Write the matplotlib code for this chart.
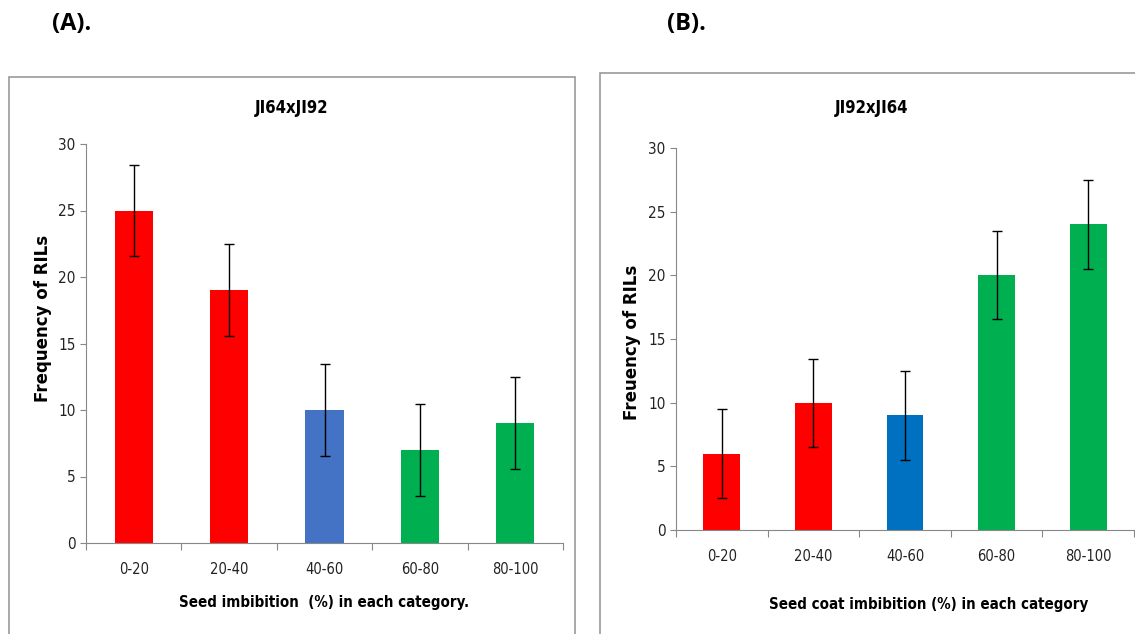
import matplotlib.pyplot as plt
from matplotlib.patches import Rectangle

categories = ['0-20', '20-40', '40-60', '60-80', '80-100']

# panel A: JI64xJI92
vals_a = [25, 19, 10, 7, 9]
err_a = [3.45, 3.45, 3.45, 3.45, 3.45]
colors_a = ['#FF0000', '#FF0000', '#4472C4', '#00B050', '#00B050']

# panel B: JI92xJI64
vals_b = [6, 10, 9, 20, 24]
err_b = [3.5, 3.45, 3.5, 3.45, 3.5]
colors_b = ['#FF0000', '#FF0000', '#0070C0', '#00B050', '#00B050']

W, H = 1135, 634
fig = plt.figure(figsize=(W / 100, H / 100), dpi=100)
lab_font = ['DejaVu Sans']
STR = 'condensed'


def fx(px):
	return px / W


def fy(py):
	return 1 - py / H


# panel frames
fig.patches.append(Rectangle((fx(9), fy(640)), fx(575 - 9), fy(77) - fy(640),
	transform=fig.transFigure, fill=False, edgecolor='#999999', lw=1.2))
fig.patches.append(Rectangle((fx(600), fy(640)), fx(560), fy(73) - fy(640),
	transform=fig.transFigure, fill=False, edgecolor='#999999', lw=1.2))

fig.text(fx(52), fy(24), '(A).', fontsize=17, fontweight='bold', family='Open Sans', va='center')
fig.text(fx(667), fy(24), '(B).', fontsize=17, fontweight='bold', family='Open Sans', va='center')


def panel(rect, vals, errs, colors, title, xlabel, ylabel, title_x, title_y,
		xlab_x, xlab_y, ylab_x, ylab_y):
	ax = fig.add_axes(rect)
	x = range(len(categories))
	ax.bar(x, vals, width=0.4, color=colors, yerr=errs,
		error_kw=dict(ecolor='black', elinewidth=1, capsize=3.5, capthick=1))
	ax.set_xlim(-0.5, len(categories) - 0.5)
	ax.set_ylim(0, 30)
	ax.set_yticks(range(0, 31, 5))
	# category boundaries get the tick marks, the labels sit between them
	ax.set_xticks([i - 0.5 for i in range(len(categories) + 1)], minor=False)
	ax.set_xticklabels([])
	ax.set_xticks(list(x), minor=True)
	ax.set_xticklabels(categories, minor=True, family=lab_font, fontstretch=STR,
		fontsize=10.5, color='#222222')
	ax.tick_params(axis='x', which='minor', length=0, pad=14)
	ax.tick_params(axis='x', which='major', length=5, color='#888888', direction='out')
	ax.tick_params(axis='y', length=4, color='#888888', labelsize=11, labelcolor='#222222')
	for lbl in ax.get_yticklabels():
		lbl.set_family(lab_font)
		lbl.set_fontstretch(STR)
	for s in ['top', 'right']:
		ax.spines[s].set_visible(False)
	for s in ['left', 'bottom']:
		ax.spines[s].set_color('#888888')
	fig.text(fx(title_x), fy(title_y), title, ha='center', va='center',
		fontsize=12, fontweight='bold', family=lab_font, fontstretch=STR)
	fig.text(fx(xlab_x), fy(xlab_y), xlabel, ha='center', va='center',
		fontsize=10.8, fontweight='bold', family=lab_font, fontstretch=STR)
	fig.text(fx(ylab_x), fy(ylab_y), ylabel, ha='center', va='center',
		rotation=90, fontsize=12, fontweight='bold', family='DejaVu Sans')
	return ax


panel([fx(86), fy(543), fx(563 - 86), fy(144) - fy(543)], vals_a, err_a, colors_a,
	'JI64xJI92', 'Seed imbibition  (%) in each category.', 'Frequency of RILs',
	292, 108, 324, 603, 43, 318)
panel([fx(676), fy(530), fx(1134 - 676), fy(148) - fy(530)], vals_b, err_b, colors_b,
	'JI92xJI64', 'Seed coat imbibition (%) in each category', 'Freuency of RILs',
	872, 108, 929, 605, 632, 342)

fig.savefig('out.png', dpi=100)
